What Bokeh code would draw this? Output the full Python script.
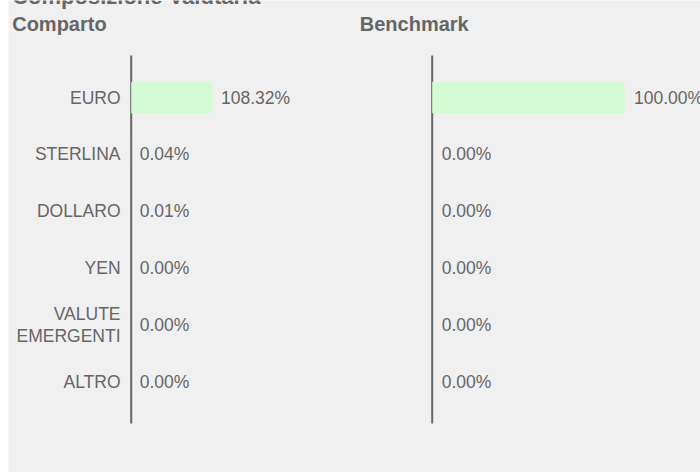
from bokeh.plotting import figure
from bokeh.models import Range1d, Label, ColumnDataSource
from bokeh.core.properties import value
from bokeh.embed import file_html
from bokeh.resources import INLINE

chart_title = "Composizione Valutaria"
panel_titles = ["Comparto", "Benchmark"]
categories = ["EURO", "STERLINA", "DOLLARO", "YEN", "VALUTE\nEMERGENTI", "ALTRO"]
comparto = [108.32, 0.04, 0.01, 0.00, 0.00, 0.00]
benchmark = [100.00, 0.00, 0.00, 0.00, 0.00, 0.00]

FONT = "Liberation Sans"
GREY = "#666666"
BG = "#f0f0f0"
BAR = "#d4fcd4"

idx = list(range(len(categories)))
src = ColumnDataSource(dict(
    idx=idx,
    cat=categories,
    comp=comparto,
    bench=benchmark,
    comp_lbl=[f"{v:.2f}%" for v in comparto],
    bench_lbl=[f"{v:.2f}%" for v in benchmark],
))

p = figure(width=692, height=472, output_backend="svg", toolbar_location=None,
           x_range=Range1d(-163.5, 758.5), y_range=Range1d(6.59, -1.705),
           x_axis_location=None, y_axis_location=None, min_border=0,
           background_fill_color=BG, border_fill_color=BG, outline_line_color=None,
           margin=(0, 0, 0, 8))
p.grid.visible = False
p.extra_x_ranges = {"bench": Range1d(-220.3, 139.5)}

y0, y1 = idx[0] - 0.738, idx[-1] + 0.73
# axis lines
p.segment(x0=0, y0=y0, x1=0, y1=y1, line_color=GREY, line_width=2)
p.segment(x0=0, y0=y0, x1=0, y1=y1, line_color=GREY, line_width=2, x_range_name="bench")

# bars
p.hbar(y="idx", left=0, right="comp", height=0.552, fill_color=BAR, line_color=None, source=src)
p.hbar(y="idx", left=0, right="bench", height=0.552, fill_color=BAR, line_color=None,
       source=src, x_range_name="bench")

txt = dict(text_font=value(FONT), text_font_size="17.5px", text_color=GREY, text_baseline="middle")
# category labels
p.text(x=0, y="idx", text="cat", x_offset=-10.7, text_align="right", text_line_height=1.13,
       source=src, **txt)
# value labels
p.text(x="comp", y="idx", text="comp_lbl", x_offset=8.5, text_align="left", source=src, **txt)
p.text(x="bench", y="idx", text="bench_lbl", x_offset=9.5, text_align="left", source=src,
       x_range_name="bench", **txt)

H = 472
p.add_layout(Label(x=3.7, y=H + 4, x_units="screen", y_units="screen", text=chart_title,
                   text_font=FONT, text_font_size="22px", text_font_style="bold",
                   text_color=GREY, text_baseline="alphabetic"))
for t, xx in zip(panel_titles, [3.7, 351.3]):
    p.add_layout(Label(x=xx, y=H - 23.5, x_units="screen", y_units="screen", text=t,
                       text_font=FONT, text_font_size="20px", text_font_style="bold",
                       text_color=GREY, text_baseline="alphabetic"))

open("out.html", "w").write(file_html(p, INLINE))
